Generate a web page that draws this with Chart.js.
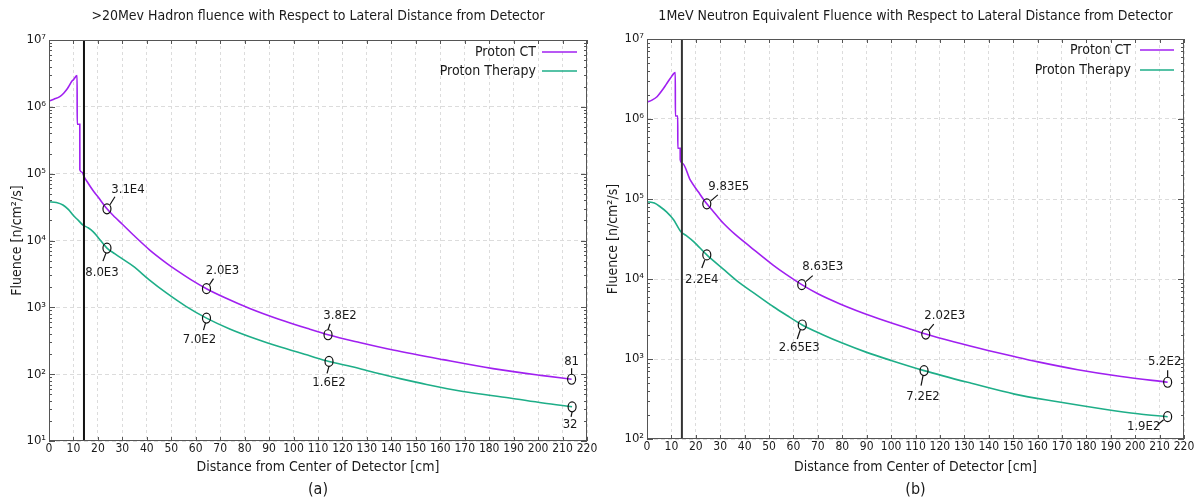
<!DOCTYPE html>
<html>
<head>
<meta charset="utf-8">
<script src="https://cdn.jsdelivr.net/npm/chart.js@4.4.1/dist/chart.umd.min.js"></script>
<style>
html,body{margin:0;padding:0;background:#fff;}
body{width:1203px;height:502px;overflow:hidden;position:relative;}
.box{position:absolute;top:0;height:502px;}
</style>
</head>
<body>
<div class="box" style="left:0;width:600px"><canvas id="ca"></canvas></div>
<div class="box" style="left:600px;width:603px"><canvas id="cb"></canvas></div>
<script>
// ---------- data ----------
const seriesNames = ['Proton CT', 'Proton Therapy'];

// (a) >20MeV hadron fluence
const ctA_x = [0, 2, 4.4, 6, 7.1, 8, 9.2, 10, 11.2, 11.5, 11.52, 12.6, 12.62, 13.5, 14.5, 16, 18, 20, 23.7, 27, 30, 34.4, 41.2, 48, 52.1, 58, 64.4, 72, 82.1, 94, 106.6, 114.1, 127, 140.7, 161.1, 181.6, 202, 213.7];
const ctA_y = [1.22e6, 1.3e6, 1.42e6, 1.6e6, 1.79e6, 2.0e6, 2.38e6, 2.55e6, 2.9e6, 2.95e6, 5.5e5, 5.5e5, 1.14e5, 1.05e5, 8.8e4, 7.2e4, 5.6e4, 4.5e4, 2.98e4, 2.23e4, 1.75e4, 1.22e4, 7.2e3, 4.6e3, 3.6e3, 2.6e3, 1.9e3, 1.39e3, 962, 664, 471, 389, 298, 230, 165, 121, 95, 84];
const ptA_x = [0, 3, 5.7, 8, 9.8, 12, 13.9, 16, 18, 20, 23.7, 27, 30, 34.4, 41, 48, 56, 64.4, 73.9, 85, 95, 106.6, 114.5, 124, 133.9, 144, 154.4, 169.3, 188.4, 202, 213.9];
const ptA_y = [3.8e4, 3.7e4, 3.4e4, 2.9e4, 2.4e4, 2.0e4, 1.7e4, 1.55e4, 1.36e4, 1.12e4, 7.7e3, 6.3e3, 5.3e3, 4.13e3, 2.58e3, 1.64e3, 1.035e3, 690, 475, 333, 252, 188, 155, 129, 104, 85, 70, 55, 44, 37, 32.5];
const annA_x = [23.7, 23.7, 64.4, 64.4, 114.1, 114.5, 213.7, 213.9];
const annA_y = [2.98e4, 7.7e3, 1.9e3, 690, 389, 155, 84, 32.5];
const annA_text = ['3.1E4', '8.0E3', '2.0E3', '7.0E2', '3.8E2', '1.6E2', '81', '32'];

// (b) 1MeV neutron equivalent fluence
const ctB_x = [0, 2, 4.1, 6.8, 8, 9.5, 11.6, 11.62, 12.6, 12.62, 13.6, 13.62, 14.5, 17.7, 21, 24.5, 27.5, 31.3, 36, 42.2, 51.8, 57, 63.4, 70, 79.1, 92.7, 107.7, 114.2, 126, 139.7, 150, 160.2, 176.5, 194.3, 213.3];
const ctB_y = [1.62e6, 1.72e6, 1.9e6, 2.42e6, 2.75e6, 3.2e6, 3.8e6, 1.09e6, 1.09e6, 4.3e5, 4.3e5, 3.1e5, 2.8e5, 1.73e5, 1.23e5, 8.7e4, 6.8e4, 4.97e4, 3.63e4, 2.54e4, 1.48e4, 1.14e4, 8.5e3, 6.53e3, 4.88e3, 3.37e3, 2.37e3, 2.05e3, 1.63e3, 1.28e3, 1.08e3, 920, 735, 604, 512];
const ptB_x = [0, 3, 5.4, 8, 10.9, 13.9, 16, 19.1, 24.5, 31, 38.2, 45, 51.8, 57, 63.6, 72, 80, 90, 100, 113.5, 132.9, 150.6, 167, 187.4, 201.1, 213.3];
const ptB_y = [9.25e4, 8.9e4, 8.0e4, 6.9e4, 5.5e4, 3.9e4, 3.5e4, 2.93e4, 2.0e4, 1.35e4, 8.8e3, 6.3e3, 4.5e3, 3.55e3, 2.66e3, 2.01e3, 1.58e3, 1.21e3, 959, 716, 497, 364, 296, 236, 207, 190];
const annB_x = [24.5, 24.5, 63.4, 63.6, 114.2, 113.5, 213.3, 213.3];
const annB_y = [8.7e4, 2.0e4, 8.5e3, 2.66e3, 2.05e3, 716, 512, 190];
const annB_text = ['9.83E5', '2.2E4', '8.63E3', '2.65E3', '2.02E3', '7.2E2', '5.2E2', '1.9E2'];

// tick values / labels
const xTickStep = 10;
const detectorX = 14.3;
const yTicksA = [1e1, 1e2, 1e3, 1e4, 1e5, 1e6, 1e7];
const yTickLabelsA = ['10¹', '10²', '10³', '10⁴', '10⁵', '10⁶', '10⁷'];
const yTicksB = [1e2, 1e3, 1e4, 1e5, 1e6, 1e7];
const yTickLabelsB = ['10²', '10³', '10⁴', '10⁵', '10⁶', '10⁷'];

// ---------- styles / layout ----------
const FONT = '"DejaVu Sans Condensed", "DejaVu Sans", sans-serif';
const PURPLE = '#a020f0';
const GREEN = '#1eae88';
const TXT = '#1a1a1a';

// label offsets [dx, dy] and leader segments [x1,y1,x2,y2] in px relative to circle
const annA_lbl = [[21,-19],[-5,25],[16,-18],[-7,22],[12,-19],[0,21],[0,-18],[-2,18]];
const annA_lead = [[3,-4,8,-12],[-1,5,-4,13],[3,-4,7,-10],[-1,5,-3,12],[0,-5,2,-11],[0,5,-2,12],[0,-5,0,-11],[0,5,-1,10]];
const annB_lbl = [[22,-17],[-5,25],[21,-18],[-3,23],[19,-18],[-1,26],[-3,-21],[-24,10]];
const annB_lead = [[4,-3,11,-9],[-2,5,-5,13],[4,-3,11,-9],[-2,5,-5,14],[3,-4,8,-10],[-1,5,-3,15],[0,-5,0,-12],[-4,3,-10,8]];

function pts(xs, ys) { return xs.map((x, i) => ({x: x, y: ys[i]})); }

const decor = {
  id: 'decor',
  afterDatasetsDraw(chart) {
    const o = chart.options.plugins.decor;
    const ctx = chart.ctx, a = chart.chartArea;
    const sx = chart.scales.x, sy = chart.scales.y;
    ctx.save();
    // detector line
    const dx = sx.getPixelForValue(o.detX);
    ctx.strokeStyle = o.detColor; ctx.lineWidth = 2;
    ctx.beginPath(); ctx.moveTo(dx, a.top); ctx.lineTo(dx, a.bottom); ctx.stroke();
    // frame
    ctx.strokeStyle = '#555'; ctx.lineWidth = 1;
    ctx.strokeRect(a.left + 0.5, a.top + 0.5, a.right - a.left - 1, a.bottom - a.top - 1);
    // tick marks
    ctx.beginPath();
    for (let v = 0; v <= 220; v += xTickStep) {
      const p = Math.round(sx.getPixelForValue(v)) + 0.5;
      ctx.moveTo(p, a.bottom); ctx.lineTo(p, a.bottom - 4);
      ctx.moveTo(p, a.top); ctx.lineTo(p, a.top + 4);
    }
    for (let e = Math.log10(o.ymin); e < 7; e++) {
      for (let m = 1; m < 10; m++) {
        const p = Math.round(sy.getPixelForValue(m * Math.pow(10, e))) + 0.5;
        const L = m === 1 ? 6 : 3;
        ctx.moveTo(a.left, p); ctx.lineTo(a.left + L, p);
        ctx.moveTo(a.right, p); ctx.lineTo(a.right - L, p);
      }
    }
    ctx.stroke();
    // annotations
    ctx.strokeStyle = '#111'; ctx.lineWidth = 1.2;
    ctx.fillStyle = TXT;
    ctx.font = '13px ' + FONT;
    ctx.textAlign = 'center'; ctx.textBaseline = 'middle';
    o.annX.forEach((x, i) => {
      const px = sx.getPixelForValue(x), py = sy.getPixelForValue(o.annY[i]);
      ctx.beginPath(); ctx.ellipse(px, py, 4, 5, 0, 0, Math.PI * 2); ctx.stroke();
      const l = o.lead[i];
      ctx.beginPath(); ctx.moveTo(px + l[0], py + l[1]); ctx.lineTo(px + l[2], py + l[3]); ctx.stroke();
      ctx.fillText(o.annT[i], px + o.lbl[i][0], py + o.lbl[i][1]);
    });
    // legend
    ctx.font = '14px ' + FONT;
    ctx.textAlign = 'right';
    const cols = [PURPLE, GREEN];
    seriesNames.forEach((n, i) => {
      const y = a.top + o.legY[i];
      ctx.fillStyle = TXT;
      ctx.fillText(n, a.right - o.legText, y);
      ctx.strokeStyle = cols[i]; ctx.lineWidth = 1.6;
      ctx.beginPath(); ctx.moveTo(a.right - o.legL1, y); ctx.lineTo(a.right - o.legL2, y); ctx.stroke();
    });
    // titles
    const cx = (a.left + a.right) / 2;
    ctx.fillStyle = TXT; ctx.textAlign = 'center';
    ctx.font = '14px ' + FONT;
    ctx.fillText(o.title, cx, 16);
    ctx.fillText('Distance from Center of Detector [cm]', cx, 467);
    ctx.font = '16px ' + FONT;
    ctx.fillText(o.caption, cx, 490);
    ctx.font = '14px ' + FONT;
    ctx.translate(o.yTitleX, (a.top + a.bottom) / 2);
    ctx.rotate(-Math.PI / 2);
    ctx.fillText('Fluence [n/cm²/s]', 0, 0);
    ctx.restore();
  }
};

function build(id, c) {
  const ds = (label, xs, ys, col) => ({
    label: label, data: pts(xs, ys), borderColor: col, borderWidth: 1.6,
    pointRadius: 0, cubicInterpolationMode: 'monotone', fill: false
  });
  return new Chart(document.getElementById(id), {
    type: 'line',
    data: {
      datasets: [
        ds(seriesNames[0], c.ctX, c.ctY, PURPLE),
        ds(seriesNames[1], c.ptX, c.ptY, GREEN)
      ]
    },
    options: {
      responsive: true, maintainAspectRatio: false, animation: false,
      layout: {padding: {top: c.top, right: c.right, left: 0, bottom: 0}},
      plugins: {legend: {display: false}, tooltip: {enabled: false}, decor: c},
      scales: {
        x: {
          type: 'linear', min: 0, max: 220,
          ticks: {stepSize: xTickStep, autoSkip: false, maxRotation: 0, padding: 1, color: TXT, font: {family: FONT, size: 12}},
          grid: {color: '#dcdcdc', drawTicks: false, lineWidth: 1},
          border: {display: false, dash: [3, 3]},
          afterFit(s) { s.height = c.xh; }
        },
        y: {
          type: 'logarithmic', min: c.ymin, max: 1e7,
          afterBuildTicks(s) { s.ticks = c.yTicks.map(v => ({value: v})); },
          ticks: {callback: (v, i) => c.yLabels[i], padding: 3, color: TXT, font: {family: FONT, size: 13}},
          grid: {color: '#dcdcdc', drawTicks: false, lineWidth: 1},
          border: {display: false, dash: [4, 3]},
          afterFit(s) { s.width = c.yw; }
        }
      }
    },
    plugins: [decor]
  });
}

build('ca', {
  ctX: ctA_x, ctY: ctA_y, ptX: ptA_x, ptY: ptA_y,
  annX: annA_x, annY: annA_y, annT: annA_text, lbl: annA_lbl, lead: annA_lead,
  yTicks: yTicksA, yLabels: yTickLabelsA, ymin: 10,
  top: 40, right: 13, yw: 49, xh: 61,
  detX: detectorX, detColor: '#111',
  legY: [12, 31], legText: 51, legL1: 45, legL2: 10,
  title: '>20Mev Hadron fluence with Respect to Lateral Distance from Detector',
  caption: '(a)', yTitleX: 17
});
build('cb', {
  ctX: ctB_x, ctY: ctB_y, ptX: ptB_x, ptY: ptB_y,
  annX: annB_x, annY: annB_y, annT: annB_text, lbl: annB_lbl, lead: annB_lead,
  yTicks: yTicksB, yLabels: yTickLabelsB, ymin: 100,
  top: 39, right: 19, yw: 47, xh: 63,
  detX: detectorX, detColor: '#333',
  legY: [11, 31], legText: 53, legL1: 44, legL2: 10,
  title: '1MeV Neutron Equivalent Fluence with Respect to Lateral Distance from Detector',
  caption: '(b)', yTitleX: 13
});
</script>
</body>
</html>
